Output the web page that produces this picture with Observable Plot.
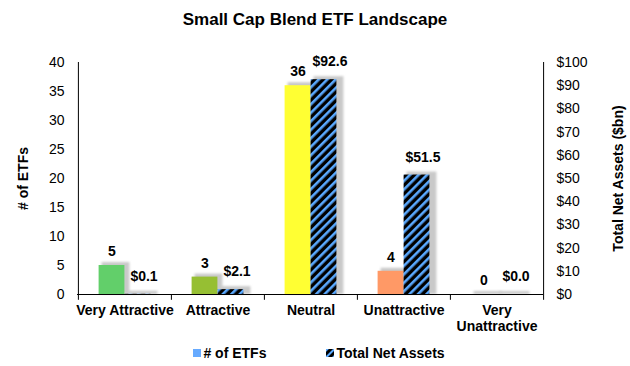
<!DOCTYPE html>
<html><head><meta charset="utf-8">
<script src="https://cdn.jsdelivr.net/npm/d3@7"></script>
<script src="https://cdn.jsdelivr.net/npm/@observablehq/plot@0.6"></script>
<style>
body{margin:0;background:#fff;font-family:"Liberation Sans",Arial,sans-serif;width:630px;color:#000}
#title{height:40px;line-height:40px;text-align:center;font-weight:bold;font-size:17px;}
#legend{height:26px;display:flex;justify-content:center;align-items:center;gap:60px;font-weight:bold;font-size:14px;padding-left:8px}
#legend span{display:flex;align-items:center;gap:2px}
</style></head><body>
<div id="title">Small Cap Blend ETF Landscape</div>
<div id="chart"></div>
<div id="legend">
  <span><svg width="8" height="8"><rect width="8" height="8" fill="#66aaff"/></svg># of ETFs</span>
  <span><svg width="8" height="8"><defs><pattern id="lh" width="5" height="5" patternUnits="userSpaceOnUse" patternTransform="rotate(45)"><rect width="5" height="5" fill="#000"/><rect width="2" height="5" fill="#5aa9ff"/></pattern></defs><rect width="8" height="8" fill="url(#lh)"/></svg>Total Net Assets</span>
</div>
<script>
const categories = ["Very Attractive","Attractive","Neutral","Unattractive","Very Unattractive"];
const etfCounts = [5, 3, 36, 4, 0];
const netAssets = [0.1, 2.1, 92.6, 51.5, 0.0];
const leftTicks = [0, 5, 10, 15, 20, 25, 30, 35, 40];
const rightTicks = [0, 10, 20, 30, 40, 50, 60, 70, 80, 90, 100];
const leftTitle = "# of ETFs";
const rightTitle = "Total Net Assets ($bn)";

const barColors = ["#62cf6a", "#96bf33", "#ffff33", "#ff9966", "#c0c0c0"];
const k = 40 / 100; // right-axis value -> left-axis units

const data = categories.map((c, i) => ({cat: c, count: etfCounts[i], assets: netAssets[i]}));

const W = 630, mL = 77, mR = 87;
const band = (W - mL - mR) / categories.length;
const half = band / 2, bw = 26;

const bold = {fontWeight: "bold", fontSize: 14, fill: "#000"};
const shadowFill = "#c9c9c9";

const chart = Plot.plot({
  width: W, height: 300,
  marginLeft: mL, marginRight: mR, marginTop: 22, marginBottom: 46,
  style: {fontFamily: "'Liberation Sans', Arial, sans-serif", background: "#fff", color: "#000"},
  x: {domain: categories, padding: 0},
  y: {domain: [0, 40]},
  color: {domain: categories, range: barColors},
  marks: [
    // shadows
    Plot.barY(data, {x: "cat", y: "count", fill: shadowFill, insetLeft: half - bw + 1, insetRight: half - 3, insetTop: -3, dx: 2}),
    Plot.barY(data, {x: "cat", y: d => d.assets * k, fill: shadowFill, insetLeft: half + 1, insetRight: half - bw - 5, insetTop: -3, dx: 2}),
    // bars
    Plot.barY(data, {x: "cat", y: "count", fill: "cat", insetLeft: half - bw, insetRight: half}),
    Plot.barY(data, {x: "cat", y: d => d.assets * k, fill: "url(#hatch)", insetLeft: half, insetRight: half - bw}),
    // axes lines
    Plot.ruleY([0], {stroke: "#000"}),
    Plot.ruleX([categories[0]], {dx: -half, y1: 0, y2: 40, stroke: "#000"}),
    Plot.ruleX([categories[categories.length - 1]], {dx: half, y1: 0, y2: 40, stroke: "#000"}),
    Plot.ruleX(categories, {dx: -half, y1: 0, y2: -1, stroke: "#000"}),
    Plot.ruleX([categories[categories.length - 1]], {dx: half, y1: 0, y2: -1, stroke: "#000"}),
    Plot.axisY(leftTicks, {anchor: "left", tickSize: 0, tickPadding: 13, fontSize: 14, label: null}),
    Plot.axisY(rightTicks.map(v => v * k), {anchor: "right", tickSize: 0, tickPadding: 13, fontSize: 14, label: null,
      tickFormat: d => "$" + Math.round(d / k)}),
    Plot.axisX({anchor: "bottom", tickSize: 0, tickPadding: 10, label: null, fontWeight: "bold", fontSize: 14, lineHeight: 1.1,
      tickFormat: d => d === "Very Unattractive" ? "Very\nUnattractive" : d}),
    // data labels
    Plot.text(data, {x: "cat", y: "count", text: d => String(d.count), dx: -bw / 2, dy: -14, ...bold}),
    Plot.text(data, {x: "cat", y: d => d.assets * k, text: d => "$" + d.assets.toFixed(1), dx: bw / 2 + 6, dy: -18, ...bold}),
    // axis titles
    Plot.text([leftTitle], {frameAnchor: "left", textAnchor: "middle", dx: -54, rotate: -90, text: d => d, ...bold}),
    Plot.text([rightTitle], {frameAnchor: "right", textAnchor: "middle", dx: 75, rotate: -90, text: d => d, ...bold})
  ]
});

const ns = "http://www.w3.org/2000/svg";
const defs = document.createElementNS(ns, "defs");
defs.innerHTML = '<pattern id="hatch" width="6" height="6" patternUnits="userSpaceOnUse" patternTransform="rotate(45)"><rect width="6" height="6" fill="#000"/><rect width="2.6" height="6" fill="#5aa9ff"/></pattern>' +
  '<filter id="blur" x="-50%" y="-50%" width="200%" height="200%"><feGaussianBlur stdDeviation="1.2"/></filter>';
chart.insertBefore(defs, chart.firstChild);
chart.querySelectorAll('rect').forEach(r => {
  const f = (r.getAttribute("fill") || "").toLowerCase();
  const gf = (r.parentNode.getAttribute && (r.parentNode.getAttribute("fill") || "")).toLowerCase();
  if (f === shadowFill || gf === shadowFill) r.setAttribute("filter", "url(#blur)");
});
document.getElementById("chart").appendChild(chart);
</script>
</body></html>
